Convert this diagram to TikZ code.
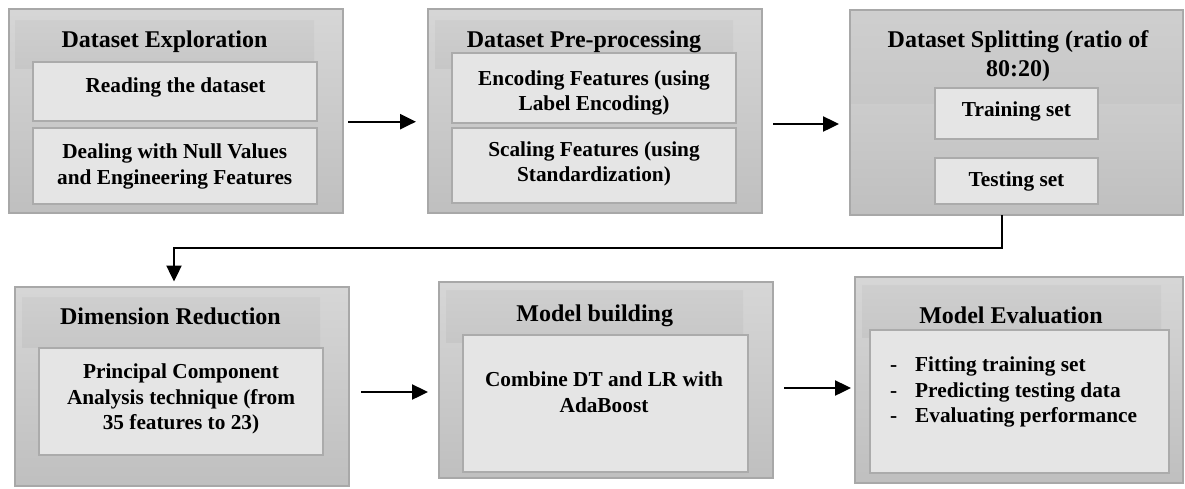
\documentclass[tikz,border=0pt]{standalone}
\usepackage{fontspec}
\setmainfont{Liberation Serif}
\usetikzlibrary{arrows.meta}

\begin{document}
\begin{tikzpicture}[x=1pt, y=-1pt,
    panel/.style={draw=black!34, line width=1.4pt, top color=black!16, bottom color=black!25,
      anchor=north west, outer sep=0pt, inner sep=0pt},
    band/.style={top color=black!19, bottom color=black!22, anchor=north west, outer sep=0pt, inner sep=0pt},
    subbox/.style={draw=black!33, line width=1.2pt, fill=black!10, anchor=north west, outer sep=0pt, inner sep=0pt},
    heading/.style={font=\fontsize{24}{29}\selectfont\bfseries, align=center, inner sep=0pt},
    body/.style={font=\fontsize{21.3}{25.5}\selectfont\bfseries, align=center, inner sep=0pt},
    flow/.style={line width=2.4pt, -{Triangle[length=16pt, width=15pt]}}
  ]
  \useasboundingbox (0,0) rectangle (1185,488);

  % first row
  \node[panel, minimum width=334pt, minimum height=204pt] (explore) at (9,9) {};
  \node[band, minimum width=299pt, minimum height=48pt] (exploreband) at (15,20) {};
  \node[subbox, minimum width=284pt, minimum height=59pt] (reading) at (33,62) {};
  \node[subbox, minimum width=284pt, minimum height=76pt] (nulls) at (33,128) {};
  \node[heading] (exploretitle) at (164.5,41.5) {Dataset Exploration};
  \node[body] (readingtext) at (175.5,87) {Reading the dataset};
  \node[body] (nullstext) at (174.7,166.5) {Dealing with Null Values\\and Engineering Features};

  \node[panel, minimum width=334pt, minimum height=204pt] (prep) at (428,9) {};
  \node[band, minimum width=298pt, minimum height=48pt] (prepband) at (435,20) {};
  \node[subbox, minimum width=284pt, minimum height=70pt] (encode) at (452,53) {};
  \node[subbox, minimum width=284pt, minimum height=75pt] (scale) at (452,128) {};
  \node[heading] (preptitle) at (584,41.5) {Dataset Pre-processing};
  \node[body] (encodetext) at (594,93) {Encoding Features (using\\Label Encoding)};
  \node[body] (scaletext) at (594,164) {Scaling Features (using\\Standardization)};

  \node[panel, minimum width=333pt, minimum height=205pt] (split) at (850,10) {};
  \node[band, minimum width=331pt, minimum height=92pt] (splitband) at (851,11) {};
  \node[subbox, minimum width=163pt, minimum height=51pt] (train) at (935,88) {};
  \node[subbox, minimum width=163pt, minimum height=46pt] (test) at (935,158) {};
  \node[heading] (splittitle) at (1018,56) {Dataset Splitting (ratio of\\80:20)};
  \node[body] (traintext) at (1016.5,111) {Training set};
  \node[body] (testtext) at (1016.5,181) {Testing set};

  % second row
  \node[panel, minimum width=334pt, minimum height=199pt] (dimred) at (15,287) {};
  \node[band, minimum width=298pt, minimum height=50pt] (dimredband) at (22,297) {};
  \node[subbox, minimum width=284pt, minimum height=107pt] (pca) at (39,348) {};
  \node[heading] (dimredtitle) at (170.5,316) {Dimension Reduction};
  \node[body] (pcatext) at (181,399) {Principal Component\\Analysis technique (from\\35 features to 23)};

  \node[panel, minimum width=334pt, minimum height=196pt] (model) at (439,282) {};
  \node[band, minimum width=297pt, minimum height=52pt] (modelband) at (446,290) {};
  \node[subbox, minimum width=285pt, minimum height=137pt] (combine) at (463,335) {};
  \node[heading] (modeltitle) at (594.7,316) {Model building};
  \node[body] (combinetext) at (604,392) {Combine DT and LR with\\AdaBoost};

  \node[panel, minimum width=328pt, minimum height=206pt] (eval) at (855,277) {};
  \node[band, minimum width=299pt, minimum height=52pt] (evalband) at (862,285) {};
  \node[subbox, minimum width=299pt, minimum height=143pt] (steps) at (870,330) {};
  \node[heading] (evaltitle) at (1011,315) {Model Evaluation};
  \node[body, align=left, anchor=west] (stepstext) at (890,392)
    {\makebox[25pt][l]{-}Fitting training set\\
     \makebox[25pt][l]{-}Predicting testing data\\
     \makebox[25pt][l]{-}Evaluating performance};

  % arrows
  \draw[flow] ([xshift=5pt, yshift=-10.7pt]explore.east) -- ([xshift=-12pt, yshift=-10.7pt]prep.west);
  \draw[flow] ([xshift=11pt, yshift=-13pt]prep.east) -- ([xshift=-11pt, yshift=-11.5pt]split.west);
  \draw[flow, shorten >=5.5pt] ([xshift=-14.5pt]split.south) -- ++(0,33) -| ([xshift=-8pt]dimred.north);
  \draw[flow] ([xshift=12pt, yshift=-5.5pt]dimred.east) -- ([xshift=-11pt, yshift=-12pt]model.west);
  \draw[flow] ([xshift=11pt, yshift=-8pt]model.east) -- ([xshift=-4pt, yshift=-8pt]eval.west);
\end{tikzpicture}
\end{document}
